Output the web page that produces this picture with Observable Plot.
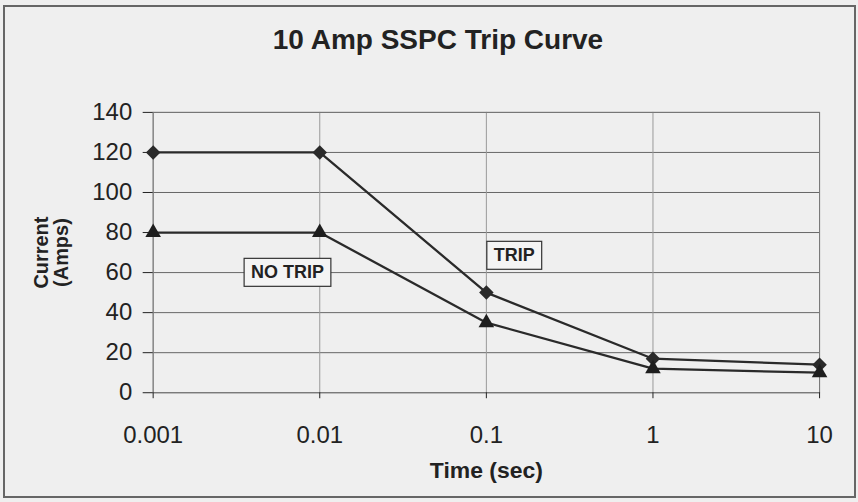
<!DOCTYPE html>
<html>
<head>
<meta charset="utf-8">
<script src="https://cdn.jsdelivr.net/npm/d3@7"></script>
<script src="https://cdn.jsdelivr.net/npm/@observablehq/plot@0.6"></script>
<style>
  html, body { margin: 0; padding: 0; background: #efefef; }
  body { width: 858px; height: 502px; overflow: hidden; font-family: "Liberation Sans", Arial, sans-serif; }
  #frame { position: absolute; left: 3px; top: 5px; width: 849px; height: 489px; border: 2px solid #666; }
  #title { position: absolute; left: 17px; right: 0; top: 19px; line-height: 28px; text-align: center; font-weight: bold; font-size: 28px; color: #222; }
  #chart { position: absolute; left: 0; top: 65px; }
</style>
</head>
<body>
<div id="frame">
  <div id="title">10 Amp SSPC Trip Curve</div>
  <div id="chart"></div>
</div>
<script>
const times = [0.001, 0.01, 0.1, 1, 10];
const tripCurrent = [120, 120, 50, 17, 14];
const noTripCurrent = [80, 80, 35, 12, 10];
const xTickLabels = ["0.001", "0.01", "0.1", "1", "10"];
const yTicks = [0, 20, 40, 60, 80, 100, 120, 140];
const annotations = [
  {label: "NO TRIP", time: 0.0064, current: 60},
  {label: "TRIP", time: 0.147, current: 68.5}
];

const tripData = times.map((t, i) => ({time: t, current: tripCurrent[i]}));
const noTripData = times.map((t, i) => ({time: t, current: noTripCurrent[i]}));

const plot = Plot.plot({
  width: 851,
  height: 426,
  marginLeft: 148,
  marginRight: 35,
  marginTop: 40,
  marginBottom: 105,
  style: {background: "transparent", fontFamily: "'Liberation Sans', Arial, sans-serif", color: "#222"},
  x: {type: "log", domain: [0.001, 10]},
  y: {domain: [0, 140]},
  marks: [
    Plot.gridY(yTicks, {stroke: "#666", strokeOpacity: 1, strokeWidth: 1}),
    Plot.gridX(times, {stroke: "#999", strokeOpacity: 1, strokeWidth: 1}),
    Plot.frame({stroke: "#777"}),
    Plot.axisY({ticks: yTicks, tickSize: 10, tickPadding: 11, fontSize: 24, label: "Current\n(Amps)", labelAnchor: "center", labelArrow: "none", labelOffset: 120}),
    Plot.axisX({ticks: times, tickFormat: d => xTickLabels[times.indexOf(d)], tickSize: 6, tickPadding: 27, fontSize: 24, label: "Time (sec)", labelAnchor: "center", labelArrow: "none", labelOffset: 85}),
    Plot.line(tripData, {x: "time", y: "current", stroke: "#2a2a2a", strokeWidth: 2.3}),
    Plot.line(noTripData, {x: "time", y: "current", stroke: "#2a2a2a", strokeWidth: 2.3}),
    Plot.dot(tripData, {x: "time", y: "current", symbol: "square", rotate: 45, fill: "#2a2a2a", r: 5.8}),
    Plot.dot(noTripData, {x: "time", y: "current", symbol: "triangle", fill: "#1e1e1e", r: 5.8}),
    Plot.text(annotations, {x: "time", y: "current", text: "label", fontSize: 18, fontWeight: "bold", fill: "#222", className: "annot"})
  ]
});
document.getElementById("chart").appendChild(plot);

// boxes around annotations
d3.select(plot).selectAll("g.annot text").each(function() {
  const bb = this.getBBox();
  const t = this.getAttribute("transform");
  const r = d3.select(this.parentNode).insert("rect", () => this)
    .attr("x", bb.x - 7).attr("y", bb.y - 4)
    .attr("width", bb.width + 14).attr("height", bb.height + 8)
    .attr("fill", "#f4f4f4").attr("stroke", "#333").attr("stroke-width", 1.2);
  if (t) r.attr("transform", t);
});
// axis label styling
d3.select(plot).selectAll("[aria-label='y-axis label'] text")
  .attr("font-weight", "bold").attr("font-size", 20);
d3.select(plot).selectAll("[aria-label='x-axis label'] text")
  .attr("font-weight", "bold").attr("font-size", 23);
</script>
</body>
</html>
